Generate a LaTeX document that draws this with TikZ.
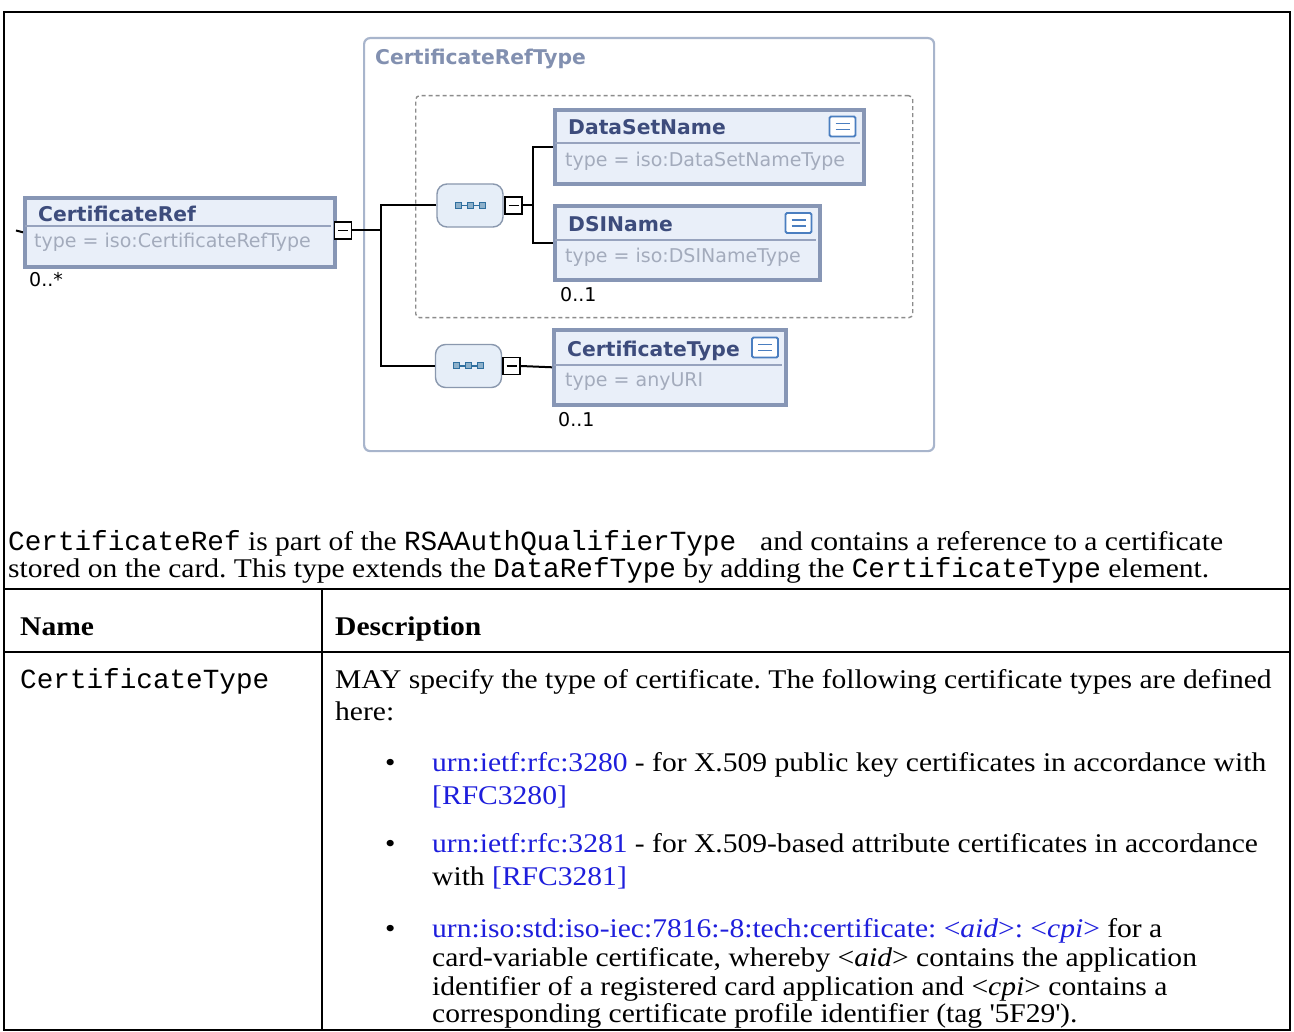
\documentclass[tikz,border=0pt]{standalone}
\usepackage{fontspec}
\setmainfont{Liberation Serif}[FakeStretch=1.095]
\newfontfamily\monof{Liberation Mono}[Scale=1.025]
\newfontfamily\xsd{DejaVu Sans}
\definecolor{elfill}{HTML}{E9EFF9}
\definecolor{elborder}{HTML}{8796B5}
\definecolor{eldiv}{HTML}{97A3BE}
\definecolor{elname}{HTML}{3D4C7C}
\definecolor{eltype}{HTML}{A3ABBC}
\definecolor{ctborder}{HTML}{A8B5CC}
\definecolor{cttitle}{HTML}{8290B0}
\definecolor{seqfill}{HTML}{E6EEF8}
\definecolor{seqborder}{HTML}{8A98AE}
\definecolor{seqicon}{HTML}{2F6F9F}
\definecolor{iconblue}{HTML}{4A7EC0}
\definecolor{grpgray}{HTML}{8C8C8C}
\definecolor{linkblue}{RGB}{30,30,220}
\newcommand\mn[1]{{\monof #1}}
\newcommand\lk[1]{{\color{linkblue}#1}}
\newcommand\sq{\XeTeXglyph\XeTeXglyphindex"quotesingle"\relax}
\frenchspacing
\begin{document}
\frenchspacing
\begin{tikzpicture}[x=1pt,y=-1pt,
  conn/.style={draw=black, line width=2},
  frame/.style={draw=black, line width=2},
  elbox/.style={draw=elborder, fill=elfill, line width=3.6, inner sep=0, anchor=north west},
  divl/.style={draw=eldiv, line width=1.6},
  nm/.style={text=elname, font=\xsd\bfseries\fontsize{20.3}{24}\selectfont, anchor=base west, inner sep=0},
  ty/.style={text=eltype, font=\xsd\fontsize{19}{23}\selectfont, anchor=base west, inner sep=0},
  occ/.style={text=black, font=\xsd\fontsize{19}{23}\selectfont, anchor=base west, inner sep=0},
  ctbox/.style={draw=ctborder, line width=2.2, rounded corners=6, inner sep=0, anchor=north west},
  cttl/.style={text=cttitle, font=\xsd\bfseries\fontsize{20.3}{24}\selectfont, anchor=base west, inner sep=0},
  grpbox/.style={draw=grpgray, line width=1.4, dash pattern=on 4pt off 3pt, rounded corners=4, inner sep=0, anchor=north west},
  seq/.style={draw=seqborder, fill=seqfill, line width=1.4, rounded corners=10, minimum width=66, minimum height=43, inner sep=0,
    path picture={
      \coordinate (pc) at (path picture bounding box.center);
      \draw[seqicon, line width=1.1, sharp corners] ([xshift=-12pt]pc) -- ([xshift=12pt]pc);
      \foreach \dx in {-12,0,12}{\filldraw[draw=seqicon, fill=seqicon!55!white, line width=1, sharp corners] ([xshift=\dx pt-3pt, yshift=-3pt]pc) rectangle ([xshift=\dx pt+3pt, yshift=3pt]pc);}
    }},
  minusbox/.style={draw=black, fill=white, line width=1.9, minimum width=17, minimum height=17, inner sep=0,
    path picture={\draw[line width=1.8, sharp corners] ([xshift=-5pt]path picture bounding box.center) -- ([xshift=5pt]path picture bounding box.center);}},
  eqicon/.style={draw=iconblue, fill=white, line width=1.8, rounded corners=1.5, minimum width=26, minimum height=20, inner sep=0,
    path picture={\draw[iconblue, line width=1.4, sharp corners] ([xshift=-7pt, yshift=3pt]path picture bounding box.center) -- ([xshift=7pt, yshift=3pt]path picture bounding box.center)
      ([xshift=-7pt, yshift=-3pt]path picture bounding box.center) -- ([xshift=7pt, yshift=-3pt]path picture bounding box.center);}},
  body/.style={anchor=base west, inner sep=0, font=\frenchspacing\fontsize{27}{31}\selectfont},
  bodyb/.style={anchor=base west, inner sep=0, font=\bfseries\fontsize{27}{31}\selectfont},
]
\useasboundingbox (0,0) rectangle (1294,1032);
\fill[white] (0,0) rectangle (1294,1032);

% ---------- schema diagram ----------
\node[ctbox, minimum width=570, minimum height=413] (crt) at (363,37) {};
\node[cttl] (crttitle) at (375,65) {CertificateRefType};
\node[grpbox, minimum width=497, minimum height=222] (grp) at (415,95) {};

% CertificateRef element
\node[elbox, minimum width=310, minimum height=69] (cref) at (23,196) {};
\draw[divl] (25,226) -- (331,226);
\node[nm] (crefn) at (38,222) {CertificateRef};
\node[ty] (creft) at (34,248) {type = iso:CertificateRefType};
\node[occ] (crefo) at (29,287) {0..*};
\node[minusbox] (mref) at (343,230.5) {};
\coordinate (tick) at (16,230.5);

% sequences
\node[seq] (s1) at (470,205.5) {};
\node[minusbox] (m1) at (513.5,205.5) {};
\node[seq] (s2) at (468.5,366) {};
\node[minusbox] (m2) at (511.5,366) {};

% DataSetName
\node[elbox, minimum width=309, minimum height=74] (dsn) at (553,108) {};
\draw[divl] (555,143) -- (860,143);
\node[nm] (dsnn) at (568,135) {DataSetName};
\node[ty] (dsnt) at (565,167) {type = iso:DataSetNameType};
\node[eqicon] (dsni) at (842.5,126.5) {};

% DSIName
\node[elbox, minimum width=265, minimum height=74] (dsi) at (553,204) {};
\draw[divl] (555,240) -- (816,240);
\node[nm] (dsin) at (568,232) {DSIName};
\node[ty] (dsit) at (565,263) {type = iso:DSINameType};
\node[eqicon] (dsii) at (798.5,223) {};
\node[occ] (dsio) at (560,302) {0..1};

% CertificateType
\node[elbox, minimum width=232, minimum height=75] (ct) at (552,328) {};
\draw[divl] (554,365) -- (782,365);
\node[nm] (ctn) at (567,357) {CertificateType};
\node[ty] (ctt) at (565,387) {type = anyURI};
\node[eqicon] (cti) at (765,347.5) {};
\node[occ] (cto) at (558,426) {0..1};

% connectors
\coordinate (jx) at (381,0);
\coordinate (kx) at (533,0);
\draw[conn] (tick) -- (cref.west);
\draw[conn] (mref.east) -- (mref.east -| jx);
\draw[conn] (s1.west) -- (s1.west -| jx) -- (s2.west -| jx) -- (s2.west);
\draw[conn] (m1.east) -- (m1.east -| kx);
\draw[conn] (dsn.west) -- (dsn.west -| kx) -- (dsi.west -| kx) -- (dsi.west);
\draw[conn] (m2.east) -- (ct.west);

% ---------- frame and table ----------
\draw[frame] (4,12) -- (1290,12) -- (1290,1030) -- (4,1030) -- cycle;
\draw[frame] (4,589) -- (1290,589);
\draw[frame] (4,652) -- (1290,652);
\draw[frame] (322,589) -- (322,1030);

\node[body] (intro1) at (8,550) {\mn{CertificateRef} is part of the \mn{RSAAuthQualifierType\ } and contains a reference to a certificate};
\node[body] (intro2) at (8,577) {stored on the card. This type extends the \mn{DataRefType} by adding the \mn{CertificateType} element.};

\node[bodyb] (hname) at (20,635) {Name};
\node[bodyb] (hdesc) at (335,635) {Description};

\node[body] (rname) at (20,688) {\mn{CertificateType}};
\node[body] (d1) at (335,688) {MAY specify the type of certificate. The following certificate types are defined};
\node[body] (d2) at (335,720) {here:};

\node[body] (bu1) at (385,771) {•};
\node[body] (b1a) at (432,771) {\lk{urn:ietf:rfc:3280} - for X.509 public key certificates in accordance with};
\node[body] (b1b) at (432,804) {\lk{[RFC3280]}};

\node[body] (bu2) at (385,852) {•};
\node[body] (b2a) at (432,852) {\lk{urn:ietf:rfc:3281} - for X.509-based attribute certificates in accordance};
\node[body] (b2b) at (432,885) {with \lk{[RFC3281]}};

\node[body] (bu3) at (385,937) {•};
\node[body] (b3a) at (432,937) {\lk{urn:iso:std:iso-iec:7816:-8:tech:certificate: <\textit{aid}>: <\textit{cpi}>} for a};
\node[body] (b3b) at (432,966) {card-variable certificate, whereby <\textit{aid}> contains the application};
\node[body] (b3c) at (432,995) {identifier of a registered card application and <\textit{cpi}> contains a};
\node[body] (b3d) at (432,1022) {corresponding certificate profile identifier (tag \sq5F29\sq).};
\end{tikzpicture}
\end{document}
